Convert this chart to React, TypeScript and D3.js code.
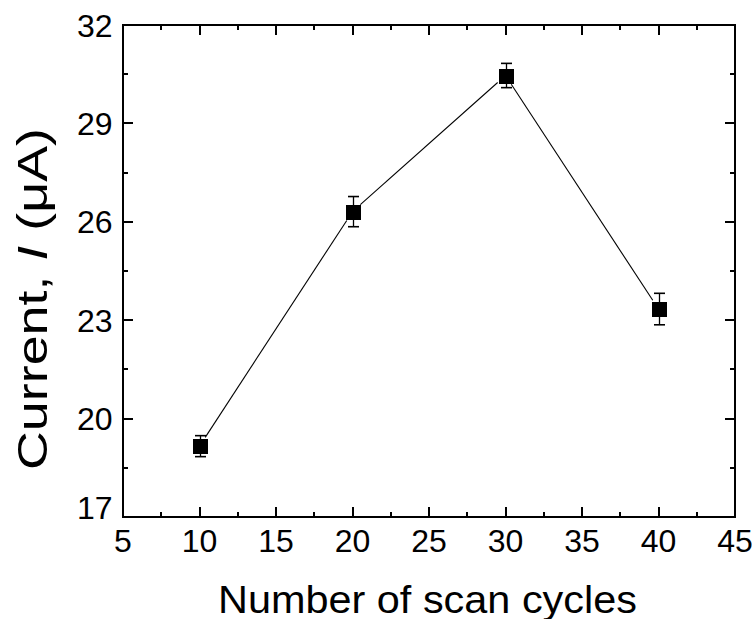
import React from "react";
import * as d3 from "d3";

const cycles = [10, 20, 30, 40];
const current = [19.16, 26.31, 30.46, 23.34];
const errors = [0.32, 0.46, 0.37, 0.48];
const xTicks = [5, 10, 15, 20, 25, 30, 35, 40, 45];
const yTicks = [17, 20, 23, 26, 29, 32];
const xMinor = [7.5, 12.5, 17.5, 22.5, 27.5, 32.5, 37.5, 42.5];
const yMinor = [18.5, 21.5, 24.5, 27.5, 30.5];

const W = 752, H = 619;
const L = 123, R = 735, T = 25, B = 517;

export default function App() {
  const x = d3.scaleLinear().domain([5, 45]).range([L, R]);
  const y = d3.scaleLinear().domain([17, 32]).range([B, T]);
  const font = "'Liberation Sans', Arial, Helvetica, sans-serif";
  const pts = cycles.map((c, i) => [x(c), y(current[i])] as [number, number]);
  const gap = 10.5;
  const segs = pts.slice(1).map((p, i) => {
    const a = pts[i];
    const dx = p[0] - a[0], dy = p[1] - a[1];
    const d = Math.hypot(dx, dy);
    const ux = dx / d, uy = dy / d;
    return [a[0] + ux * gap, a[1] + uy * gap, p[0] - ux * gap, p[1] - uy * gap];
  });
  const major = 10, minor = 5;
  const rx = (v: number) => Math.round(x(v));
  const ry = (v: number) => Math.round(y(v));
  return (
    <svg width={W} height={H} style={{ position: "absolute", left: 0, top: 0, background: "#fff" }} fontFamily={font}>
      <rect x={0} y={0} width={W} height={H} fill="#fff" />
      {segs.map((s, i) => (
        <line key={"s" + i} x1={s[0]} y1={s[1]} x2={s[2]} y2={s[3]} stroke="#000" strokeWidth={1.1} />
      ))}
      {cycles.map((c, i) => {
        const cx = Math.round(x(c)) + 0.5;
        const y1 = y(current[i] + errors[i]);
        const y2 = y(current[i] - errors[i]);
        return (
          <g key={"e" + i} stroke="#000">
            <line x1={cx} x2={cx} y1={y1} y2={y2} strokeWidth={1.3} />
            <line x1={cx - 5.5} x2={cx + 5.5} y1={y1} y2={y1} strokeWidth={1.6} />
            <line x1={cx - 5.5} x2={cx + 5.5} y1={y2} y2={y2} strokeWidth={1.6} />
          </g>
        );
      })}
      {pts.map((p, i) => (
        <rect key={"m" + i} x={Math.round(p[0]) - 7} y={Math.round(p[1]) - 7} width={15} height={15} fill="#000" />
      ))}
      <g shapeRendering="crispEdges" stroke="#000" strokeWidth={2}>
        <rect x={L} y={T} width={R - L} height={B - T} fill="none" />
        {xTicks.map((t) => (
          <g key={"xt" + t}>
            <line x1={rx(t)} x2={rx(t)} y1={B} y2={B - major} />
            <line x1={rx(t)} x2={rx(t)} y1={T} y2={T + major} />
          </g>
        ))}
        {xMinor.map((t) => (
          <g key={"xm" + t}>
            <line x1={rx(t)} x2={rx(t)} y1={B} y2={B - minor} />
            <line x1={rx(t)} x2={rx(t)} y1={T} y2={T + minor} />
          </g>
        ))}
        {yTicks.map((t) => (
          <g key={"yt" + t}>
            <line x1={L} x2={L + major} y1={ry(t)} y2={ry(t)} />
            <line x1={R} x2={R - major} y1={ry(t)} y2={ry(t)} />
          </g>
        ))}
        {yMinor.map((t) => (
          <g key={"ym" + t}>
            <line x1={L} x2={L + minor} y1={ry(t)} y2={ry(t)} />
            <line x1={R} x2={R - minor} y1={ry(t)} y2={ry(t)} />
          </g>
        ))}
      </g>
      {xTicks.map((t) => (
        <text key={"xl" + t} x={x(t)} y={551.5} textAnchor="middle" fontSize={32} fill="#000">
          {t}
        </text>
      ))}
      {yTicks.map((t) => (
        <text key={"yl" + t} x={112.5} y={y(t) + 11.5 - (t === 17 ? 10 : 0)} textAnchor="end" fontSize={32} fill="#000">
          {t}
        </text>
      ))}
      <text x={427.5} y={612.5} textAnchor="middle" fontSize={38} fill="#000" textLength={419} lengthAdjust="spacingAndGlyphs">
        Number of scan cycles
      </text>
      <text
        transform={`translate(47,299) rotate(-90)`}
        textAnchor="middle"
        fontSize={43}
        fill="#000"
        textLength={342}
        lengthAdjust="spacingAndGlyphs"
      >
        Current, <tspan fontStyle="italic">I</tspan> (μA)
      </text>
    </svg>
  );
}
